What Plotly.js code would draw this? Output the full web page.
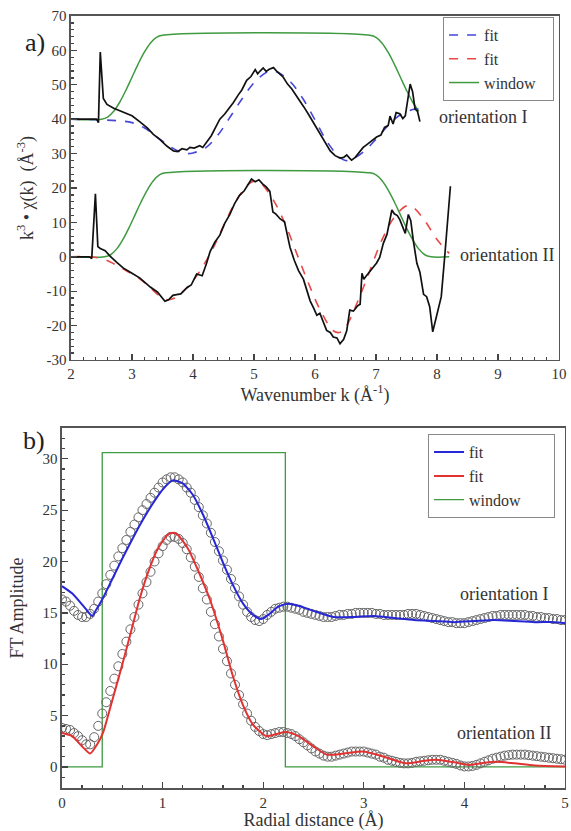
<!DOCTYPE html>
<html>
<head>
<meta charset="utf-8">
<script src="https://cdn.plot.ly/plotly-3.0.1.min.js"></script>
<style>html,body{margin:0;padding:0;background:#fff}#chart{width:571px;height:831px}</style>
</head>
<body>
<div id="chart"></div>
<script>
// ---------- Panel a: k-space data ----------
const kDataI = [2.0,2.3,2.42,2.45,2.48,2.53,2.59,2.7,2.85,3.0,3.13,3.25,3.35,3.45,3.57,3.68,3.75,3.82,3.9,3.95,4.02,4.11,4.16,4.22,4.3,4.37,4.44,4.52,4.58,4.66,4.74,4.8,4.88,4.95,5.02,5.06,5.1,5.15,5.2,5.25,5.32,5.38,5.48,5.55,5.62,5.7,5.75,5.82,5.9,5.98,6.08,6.15,6.25,6.33,6.41,6.47,6.52,6.57,6.6,6.66,6.72,6.79,6.85,6.92,7.01,7.08,7.14,7.2,7.23,7.28,7.33,7.39,7.44,7.48,7.53,7.56,7.6,7.64,7.68,7.72];
const chiDataI = [40,40,40,39,59.5,46,44.3,43.2,42,41,39.2,37.5,35.6,34.2,32.2,30.8,30.6,31.4,31.1,31.8,31.6,32.3,31.8,33.2,35.2,37.6,40,41.5,42.8,44.8,47.0,48.5,51.3,52.4,54.4,53.2,54.0,54.9,53.9,54.5,55.0,53.8,52.2,50.2,48.8,46.8,45.2,43.5,41.2,38.8,36.2,33.8,30.8,29.4,28.7,28.9,29.6,28.6,28.1,28.9,30.2,31.8,32.6,33.5,34.8,35.4,37.6,38.2,40.9,38.6,41.9,41.6,40.2,41.0,46,50.2,48,43,42.3,39.3];

const kFitI = [2.0,2.5,2.8,3.0,3.2,3.4,3.6,3.8,3.9,4.0,4.2,4.4,4.6,4.8,5.0,5.2,5.3,5.4,5.6,5.8,6.0,6.2,6.4,6.5,6.6,6.8,7.0,7.2,7.4,7.6,7.7];
const chiFitI = [40,39.8,39.5,39,37.5,35,32.3,30.4,30,30.2,31.6,35.2,40.4,45.8,50.6,53.6,54,53.6,50.8,46,39.8,33.4,29,28,28.3,30.6,34.2,38.2,41.3,42.8,43];

const kWinI = [2.0,2.5,2.6,2.7,2.8,2.9,3.0,3.1,3.2,3.3,3.4,3.5,6.9,7.0,7.1,7.2,7.3,7.4,7.5,7.6,7.7];
const winI = [40,40,40.6,42.3,45.0,48.4,52.2,56.0,59.4,62.1,63.8,64.4,64.4,63.8,62.1,59.4,56.0,52.2,48.4,45.0,42.3];

const kDataII = [2.0,2.3,2.34,2.4,2.44,2.48,2.56,2.64,2.75,2.86,3.0,3.13,3.22,3.3,3.42,3.54,3.6,3.67,3.73,3.8,3.9,3.97,4.06,4.15,4.22,4.28,4.36,4.44,4.52,4.6,4.68,4.76,4.84,4.9,4.96,5.02,5.08,5.14,5.2,5.26,5.31,5.36,5.43,5.5,5.55,5.59,5.66,5.73,5.81,5.87,5.92,5.98,6.03,6.08,6.14,6.19,6.25,6.3,6.36,6.41,6.47,6.52,6.57,6.63,6.7,6.74,6.77,6.8,6.84,6.9,6.96,7.01,7.06,7.12,7.18,7.22,7.26,7.3,7.35,7.39,7.44,7.48,7.53,7.57,7.61,7.67,7.72,7.78,7.83,7.88,7.93,7.99,8.07,8.13,8.18,8.22];
const chiDataII = [0,0,-0.5,18.3,3,2.4,1.8,0.2,-1.6,-3.3,-4.8,-6.2,-7.6,-8.8,-10.3,-12.9,-12.5,-11.2,-11.0,-10.8,-9.0,-8.2,-5.0,-5.5,-2.0,1.5,4.3,6.3,9.7,12.2,15.4,17.8,19.2,21.0,22.6,21.8,22.4,21.2,20.3,19.0,13.0,12.4,11.0,10.2,6.0,2.8,-1.0,-4.0,-6.5,-10.0,-12.8,-15.0,-17.0,-16.4,-19.4,-21.4,-22.0,-23.3,-23.6,-25.3,-24.0,-21.5,-15.5,-15.8,-14.2,-13.8,-4.8,-6.5,-5.6,-4.2,-3.0,-1.8,-0.2,3.9,6.5,10.0,13.6,12.5,12.0,10.8,8.5,6.8,12.3,10.5,4.9,-1.9,-4.5,-10.9,-11.6,-14.5,-21.8,-17.0,-11.6,0.8,12.0,20.5];

const kFitII = [2.0,2.3,2.5,2.7,2.9,3.1,3.3,3.5,3.6,3.7,3.9,4.1,4.3,4.5,4.7,4.9,5.0,5.1,5.3,5.5,5.7,5.9,6.1,6.3,6.4,6.5,6.7,6.9,7.1,7.3,7.5,7.6,7.8,8.0,8.2];
const chiFitII = [0,0,-0.5,-2,-4,-6,-9,-12,-12.5,-12,-9,-4.5,1.5,9,16,21,22,21.5,17,10,1,-8,-16,-21.5,-22,-20.5,-13,-4,5,11.5,14.8,14.5,10.5,5,1];

const kWinII = [2.0,2.55,2.65,2.75,2.85,2.95,3.05,3.15,3.25,3.35,3.45,3.55,6.9,7.0,7.1,7.2,7.3,7.4,7.5,7.6,7.7,7.8,7.9,8.2];
const winII = [0,0,0.6,2.3,5.0,8.4,12.2,16.0,19.4,22.1,23.8,24.4,24.4,23.8,22.1,19.4,16.0,12.2,8.4,5.0,2.3,0.6,0,0];

const kTickVals = [-30,-20,-10,0,10,20,30,40,50,60,70];
const kTickText = ['-30','-20','-10','0','10','20','30','40','50','60','70'];

// ---------- Panel b: R-space data ----------
const R_START = 0;
const R_STEP = 0.04;
const ftDataI = [16.3,16.1,15.7,15.2,14.8,14.6,14.6,14.9,15.4,16.1,16.9,17.8,18.7,19.6,20.5,21.3,22.1,22.9,23.6,24.3,25.0,25.6,26.2,26.7,27.2,
27.7,28.0,28.2,28.2,28.0,27.7,27.2,26.7,26.0,25.3,24.5,23.7,22.8,21.9,21.0,20.1,19.2,18.3,17.4,16.6,15.8,15.1,14.6,14.3,14.2,
14.4,14.8,15.1,15.4,15.5,15.6,15.6,15.5,15.4,15.3,15.1,15.0,14.9,14.8,14.7,14.6,14.6,14.6,14.7,14.8,14.8,14.9,14.9,15.0,15.0,
15.0,15.0,15.0,14.9,14.9,14.8,14.8,14.8,14.8,14.8,14.8,14.9,14.9,14.9,14.8,14.7,14.6,14.5,14.4,14.3,14.2,14.1,14.1,14.0,14.0,
14.0,14.1,14.2,14.3,14.4,14.5,14.6,14.7,14.7,14.8,14.8,14.8,14.8,14.8,14.8,14.8,14.7,14.7,14.6,14.6,14.5,14.5,14.4,14.4,14.3,
14.3];
const ftDataII = [3.8,3.7,3.6,3.3,3.0,2.6,2.2,2.2,2.9,4.0,5.2,6.3,7.4,8.6,9.8,11.0,12.2,13.4,14.6,15.8,16.9,18.0,19.0,20.0,20.8,
21.5,22.1,22.4,22.4,22.2,21.8,21.2,20.4,19.5,18.5,17.4,16.3,15.1,13.9,12.7,11.5,10.3,9.1,8.0,7.0,6.1,5.2,4.5,3.9,3.5,
3.2,3.1,3.2,3.3,3.4,3.4,3.3,3.2,3.0,2.7,2.4,2.1,1.8,1.5,1.3,1.1,1.0,1.0,1.1,1.2,1.3,1.4,1.5,1.5,1.5,
1.5,1.4,1.3,1.2,1.0,0.9,0.7,0.6,0.5,0.4,0.35,0.35,0.4,0.5,0.55,0.6,0.65,0.7,0.7,0.7,0.6,0.5,0.4,0.3,0.15,
0.05,0.05,0.1,0.2,0.35,0.5,0.65,0.8,0.9,1.0,1.1,1.15,1.2,1.2,1.2,1.2,1.15,1.1,1.05,1.0,0.95,0.9,0.85,0.8,0.75,
0.7];

const rFitI = [0,0.1,0.2,0.26,0.3,0.34,0.4,0.5,0.6,0.7,0.8,0.9,1.0,1.1,1.2,1.3,1.4,1.5,1.6,1.7,1.8,1.9,1.98,2.05,2.15,2.25,2.35,2.5,2.7,2.9,3.1,3.3,3.5,3.7,3.9,4.1,4.3,4.5,4.7,4.9,5.0];
const ftFitI = [17.6,16.9,15.8,15.1,14.7,15.3,16.3,18.3,20.3,22.2,24.0,25.6,27.0,27.9,27.6,26.5,24.6,22.3,19.9,17.7,15.9,14.8,14.4,14.8,15.6,15.9,15.7,15.2,14.6,14.6,14.7,14.5,14.3,14.2,14.1,14.2,14.3,14.2,14.1,14.1,14.0];

const rFitII = [0,0.1,0.2,0.28,0.35,0.41,0.5,0.6,0.7,0.77,0.85,0.95,1.05,1.1,1.15,1.25,1.35,1.47,1.6,1.7,1.8,1.9,2.03,2.13,2.23,2.35,2.5,2.63,2.8,2.99,3.2,3.42,3.6,3.72,3.9,4.05,4.2,4.32,4.5,4.7,5.0];
const ftFitII = [3.3,3.0,2.0,1.3,2.2,3.4,6.5,10.0,13.7,16.3,18.8,21.2,22.6,22.8,22.6,21.3,19.2,16.3,12.3,8.8,6.0,4.1,3.0,3.2,3.4,3.0,2.0,1.2,1.3,1.5,1.0,0.35,0.6,0.7,0.45,0.2,0.4,0.5,0.35,0.15,0.05];

const rWin = [0,0.4,0.4,2.22,2.22,5.0];
const ftWin = [0,0,30.6,30.6,0,0];

const ftTickVals = [0,5,10,15,20,25,30];
const ftTickText = ['0','5','10','15','20','25','30'];

// legend labels
const NAME_FIT = 'fit';
const NAME_WIN = 'window';

// ---------- styles ----------
const FONT = '"Liberation Serif", "Times New Roman", serif';
const BLUE = '#2727d8', RED = '#e23232', GREEN = '#3f9a40', BLACK = '#111111', GRAY = '#666666';
const PAD_A = '\u00a0\u00a0\u00a0';
const PAD_B = '\u00a0\u00a0\u00a0\u00a0\u00a0\u00a0\u00a0';

const traces = [
  // panel a
  {x:kWinI, y:winI, xaxis:'x', yaxis:'y', mode:'lines', line:{color:GREEN, width:1.5, shape:'spline'}, showlegend:false, hoverinfo:'skip'},
  {x:kWinII, y:winII, xaxis:'x', yaxis:'y', mode:'lines', line:{color:GREEN, width:1.5, shape:'spline'}, showlegend:false, hoverinfo:'skip'},
  {x:kFitI, y:chiFitI, xaxis:'x', yaxis:'y', mode:'lines', name:NAME_FIT, legend:'legend', legendrank:1, line:{color:'#4646d8', width:1.6, dash:'dash', shape:'spline'}},
  {x:kFitII, y:chiFitII, xaxis:'x', yaxis:'y', mode:'lines', name:NAME_FIT, legend:'legend', legendrank:2, line:{color:'#e84848', width:1.6, dash:'dash', shape:'spline'}},
  {x:[null], y:[null], xaxis:'x', yaxis:'y', mode:'lines', name:NAME_WIN + PAD_A, legend:'legend', legendrank:3, line:{color:GREEN, width:1.5}},
  {x:kDataI, y:chiDataI, xaxis:'x', yaxis:'y', mode:'lines', line:{color:BLACK, width:1.7}, showlegend:false},
  {x:kDataII, y:chiDataII, xaxis:'x', yaxis:'y', mode:'lines', line:{color:BLACK, width:1.7}, showlegend:false},
  // panel b
  {x:rWin, y:ftWin, xaxis:'x2', yaxis:'y2', mode:'lines', name:NAME_WIN + PAD_B, legend:'legend2', legendrank:3, line:{color:GREEN, width:1.3}},
  {y:ftDataI, x0:R_START, dx:R_STEP, xaxis:'x2', yaxis:'y2', mode:'markers', marker:{symbol:'circle-open', size:9, color:GRAY, line:{width:1, color:GRAY}}, showlegend:false},
  {y:ftDataII, x0:R_START, dx:R_STEP, xaxis:'x2', yaxis:'y2', mode:'markers', marker:{symbol:'circle-open', size:9, color:GRAY, line:{width:1, color:GRAY}}, showlegend:false},
  {x:rFitI, y:ftFitI, xaxis:'x2', yaxis:'y2', mode:'lines', name:NAME_FIT, legend:'legend2', legendrank:1, line:{color:BLUE, width:2, shape:'spline', smoothing:0.6}},
  {x:rFitII, y:ftFitII, xaxis:'x2', yaxis:'y2', mode:'lines', name:NAME_FIT, legend:'legend2', legendrank:2, line:{color:RED, width:2, shape:'spline', smoothing:0.6}}
];

const axBase = {
  showline:true, mirror:true, linecolor:'#555', linewidth:1.5,
  ticks:'inside', ticklen:6, tickwidth:1.3, tickcolor:'#444',
  showgrid:false, zeroline:false, automargin:false,
  tickfont:{family:FONT, size:15, color:'#333'}
};
function ax(extra){ return Object.assign({}, JSON.parse(JSON.stringify(axBase)), extra); }

const layout = {
  width:571, height:831,
  margin:{l:0, r:0, t:0, b:0},
  paper_bgcolor:'#fff', plot_bgcolor:'#fff',
  font:{family:FONT, color:'#333'},
  xaxis: ax({domain:[0.12434,0.97898], anchor:'y', range:[2,10], dtick:1, tick0:0,
    minor:{ticks:'inside', ticklen:3, dtick:0.2, tickcolor:'#444'},
    title:{text:'Wavenumber k (Å<sup>-1</sup>)', standoff:4, font:{family:FONT, size:18, color:'#333'}}}),
  yaxis: ax({domain:[0.56679,0.98075], anchor:'x', range:[-30,70], tickvals:kTickVals, ticktext:kTickText,
    minor:{ticks:'inside', ticklen:3, dtick:2, tickcolor:'#444'},
    title:{text:'k<sup>3</sup> • χ(k)  (Å<sup>-3</sup>)', standoff:8, font:{family:FONT, size:18, color:'#333'}}}),
  xaxis2: ax({domain:[0.10858,0.98949], anchor:'y2', range:[0,5], dtick:1, tick0:0,
    minor:{ticks:'inside', ticklen:3, dtick:0.2, tickcolor:'#444'},
    title:{text:'Radial distance (Å)', standoff:6, font:{family:FONT, size:18, color:'#333'}}}),
  yaxis2: ax({domain:[0.05174,0.48496], anchor:'x2', range:[-2.05,33], tickvals:ftTickVals, ticktext:ftTickText,
    minor:{ticks:'inside', ticklen:3, dtick:1, tickcolor:'#444'},
    title:{text:'FT Amplitude', standoff:14, font:{family:FONT, size:18, color:'#333'}}}),
  legend:{x:0.776, y:0.9795, xanchor:'left', yanchor:'top', bgcolor:'#fff', bordercolor:'#888', borderwidth:1,
    font:{family:FONT, size:16, color:'#333'}, tracegroupgap:0, itemwidth:30},
  legend2:{x:0.7496, y:0.4775, xanchor:'left', yanchor:'top', bgcolor:'#fff', bordercolor:'#888', borderwidth:1,
    font:{family:FONT, size:16, color:'#333'}, tracegroupgap:0, itemwidth:30},
  annotations:[
    {text:'a)', xref:'paper', yref:'paper', x:0.040, y:0.9687, showarrow:false, font:{family:FONT, size:26, color:'#222'}},
    {text:'b)', xref:'paper', yref:'paper', x:0.036, y:0.4705, showarrow:false, font:{family:FONT, size:26, color:'#222'}},
    {text:'orientation I', xref:'x', yref:'y', x:8.0, y:40.6, xanchor:'left', showarrow:false, font:{family:FONT, size:18, color:'#333'}},
    {text:'orientation II', xref:'x', yref:'y', x:8.34, y:0.5, xanchor:'left', showarrow:false, font:{family:FONT, size:18, color:'#333'}},
    {text:'orientation I', xref:'x2', yref:'y2', x:4.85, y:16.8, xanchor:'right', showarrow:false, font:{family:FONT, size:18, color:'#333'}},
    {text:'orientation II', xref:'x2', yref:'y2', x:4.88, y:3.3, xanchor:'right', showarrow:false, font:{family:FONT, size:18, color:'#333'}}
  ]
};

Plotly.newPlot('chart', traces, layout, {staticPlot:true, displayModeBar:false});
</script>
</body>
</html>
